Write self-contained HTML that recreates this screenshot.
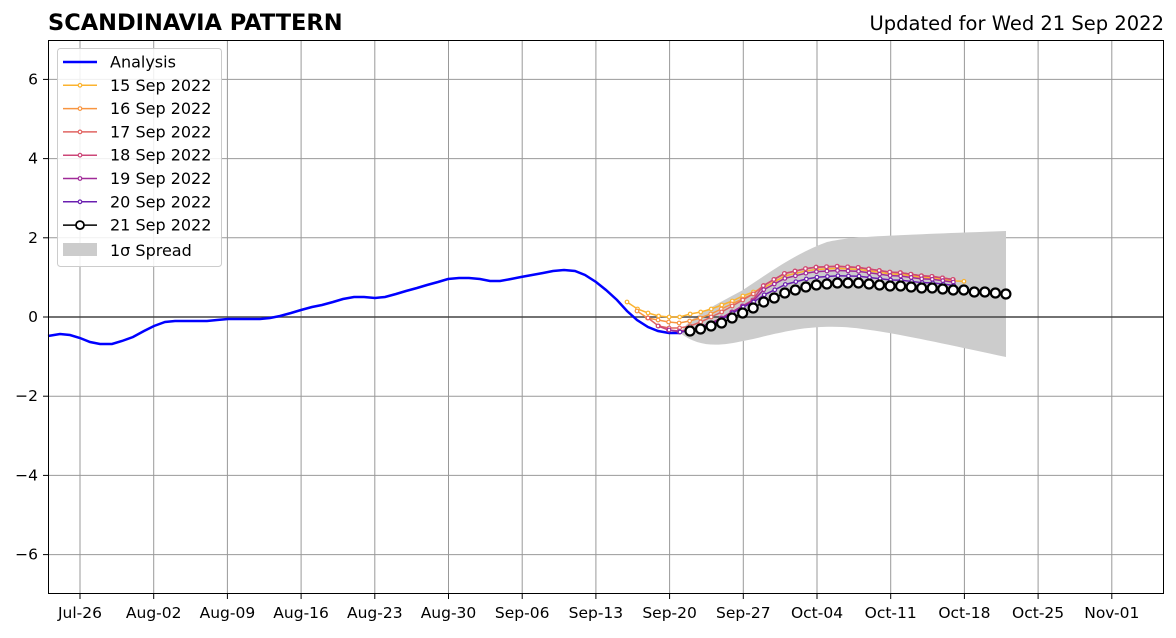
<!DOCTYPE html><html><head><style>body{margin:0;background:#fff}svg{font-family:"DejaVu Sans","Liberation Sans",sans-serif}</style></head><body>
<svg id="s" width="1176" height="633" xmlns="http://www.w3.org/2000/svg">
<rect width="1176" height="633" fill="#fff"/>
<g id="grid" stroke="#999" stroke-width="1"></g>
<path d="M680,333 C690,318 700,313 743,290 C780,265 800,252 827,242 C850,237 870,236 1006,231 L1006,357 C950,345 900,334 870,330 C850,327 830,325 800,329 C770,334 760,338 743,341 C720,346 700,348 680,333 Z" fill="#cccccc"/>
<line x1="48" x2="1164" y1="317" y2="317" stroke="#444" stroke-width="1.5"/>
<g id="ser"></g>
<rect x="48.5" y="40.5" width="1115" height="553" fill="none" stroke="#000"/>
<g id="tk" font-size="15.5"></g>
<text x="48" y="30" font-size="22.5" font-weight="bold">SCANDINAVIA PATTERN</text>
<text x="1164" y="30" font-size="19.5" text-anchor="end">Updated for Wed 21 Sep 2022</text>
<g font-size="16">
<rect x="57.5" y="48.5" width="164" height="218" rx="3" fill="#fff" fill-opacity="0.85" stroke="#ccc"/>
<g id="leg"></g>
</g>
</svg>
<script>
const NS="http://www.w3.org/2000/svg";
function el(p,t,a,txt){const e=document.createElementNS(NS,t);for(const k in a)e.setAttribute(k,a[k]);if(txt)e.textContent=txt;p.appendChild(e);return e;}
const g=document.getElementById('grid'),tk=document.getElementById('tk');
const dates=["Jul-26","Aug-02","Aug-09","Aug-16","Aug-23","Aug-30","Sep-06","Sep-13","Sep-20","Sep-27","Oct-04","Oct-11","Oct-18","Oct-25","Nov-01"];
dates.forEach((d,i)=>{const x=80+i*73.7;el(g,'line',{x1:x,x2:x,y1:40,y2:594});el(tk,'line',{x1:x,x2:x,y1:594,y2:599,stroke:'#000'});el(tk,'text',{x:x,y:618,'text-anchor':'middle'},d);});
[6,4,2,0,-2,-4,-6].forEach(v=>{const y=317-v*39.6;el(g,'line',{x1:48,x2:1164,y1:y,y2:y});el(tk,'line',{x1:43,x2:48,y1:y,y2:y,stroke:'#000'});el(tk,'text',{x:38,y:y+5,'text-anchor':'end'},(v<0?'−':'')+Math.abs(v));});
const s=document.getElementById('ser');
const an=[[48,336],[60,334],[70,335],[80,338],[90,342],[100,344],[112,344],[122,341],[133,337],[144,331],[154,326],[165,322],[175,321],[186,321],[207,321],[217,320],[228,319],[238,319],[249,319],[260,319],[270,318],[280,316],[291,313],[301,310],[312,307],[322,305],[333,302],[343,299],[354,297],[364,297],[375,298],[385,297],[396,294],[406,291],[417,288],[427,285],[438,282],[448,279],[459,278],[469,278],[480,279],[490,281],[500,281],[511,279],[521,277],[532,275],[543,273],[553,271],[564,270],[575,271],[585,275],[596,282],[606,290],[617,300],[627,311],[637,320],[648,327],[658,331],[669,333],[680,333]];
el(s,'polyline',{points:an.map(p=>p.join(',')).join(' '),fill:'none',stroke:'#0000ff','stroke-width':2.5});
const b=[331,329,326,323,318,313,308,302,298,293,290,287,285,284,283,283,283,284,285,286,286,287,288,288,289,290,290,292,292,293,294];
function fc(start,startVals,peak,n){const pts=[];for(let i=0;i<n;i++){const x=start+i*10.53;let y;const d=Math.round((x-690)/10.53);if(i<startVals.length)y=startVals[i];else{const bb=b[Math.max(0,Math.min(30,d))];const f=Math.min(1,Math.max(0,(x-700)/80));y=bb-peak*f*Math.max(0.3,1-(x-850)/300);}pts.push([x,y]);}return pts;}
const sets=[
[627,[302,309,313,316,317,317,314,312,309,305,301,296,292],14,'#fbb32f',33],
[637,[311,318,320,322,323,321,318,314,309,304,299],16,'#f89540',31],
[648,[318,326,328,328,326,322,317,312,306,300],16,'#e16462',30],
[658,[326,330,331,330,327,323,318,312,306,300],16,'#cc4778',29],
[669,[330,332,330,327,323,318,312,306,301],12,'#a02a98',28],
[680,[332,331,328,324,319,313,307,302],7,'#6a1fb0',27]];
sets.forEach(([st,sv,pk,c,n])=>{const p=fc(st,sv,pk,n);el(s,'polyline',{points:p.map(q=>q.join(',')).join(' '),fill:'none',stroke:c,'stroke-width':1.5});p.forEach(q=>el(s,'circle',{cx:q[0],cy:q[1],r:1.8,fill:'#fff',stroke:c,'stroke-width':1.2}));});
const bp=b.map((y,i)=>[690+i*10.53,y]);
el(s,'polyline',{points:bp.map(q=>q.join(',')).join(' '),fill:'none',stroke:'#000','stroke-width':1.5});
bp.forEach(q=>el(s,'circle',{cx:q[0],cy:q[1],r:4.5,fill:'#fff',stroke:'#000','stroke-width':2.2}));
const L=document.getElementById('leg');
const items=[['Analysis','#0000ff',0],['15 Sep 2022','#fbb32f',1],['16 Sep 2022','#f89540',1],['17 Sep 2022','#e16462',1],['18 Sep 2022','#cc4778',1],['19 Sep 2022','#a02a98',1],['20 Sep 2022','#6a1fb0',1],['21 Sep 2022','#000',2]];
items.forEach((it,i)=>{const y=62+i*23.3;el(L,'line',{x1:63,x2:97,y1:y,y2:y,stroke:it[1],'stroke-width':it[2]==0?2.5:1.5});if(it[2]==1)el(L,'circle',{cx:80,cy:y,r:1.8,fill:'#fff',stroke:it[1],'stroke-width':1.2});if(it[2]==2)el(L,'circle',{cx:80,cy:y,r:4,fill:'#fff',stroke:'#000','stroke-width':1.8});el(L,'text',{x:110,y:y+5.5},it[0]);});
el(L,'rect',{x:63,y:243,width:34,height:13,fill:'#ccc'});
el(L,'text',{x:110,y:256},'1σ Spread');
</script>
</body></html>
